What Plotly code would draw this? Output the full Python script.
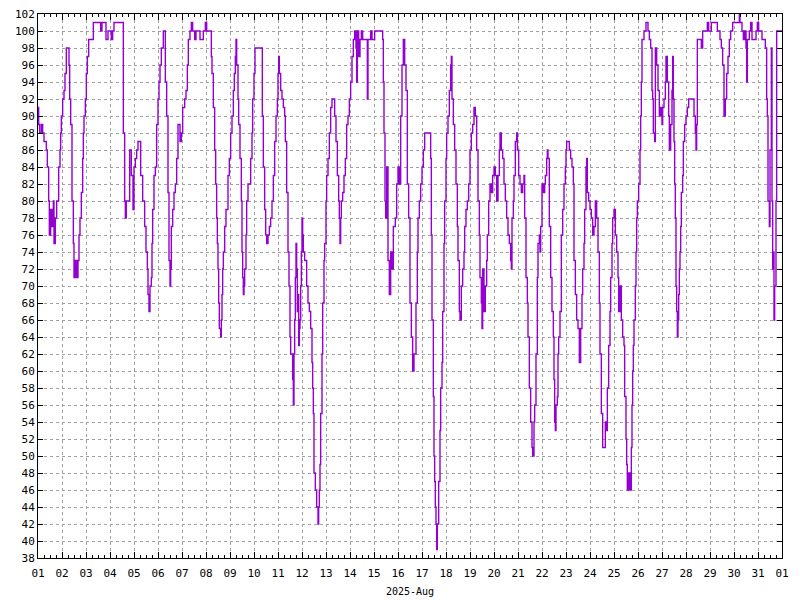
import pandas as pd
import plotly.graph_objects as go

# sample index: number of 20-minute intervals since 2025-08-01 00:00
step20 = [
    0, 2, 5, 10, 14, 18, 25, 28, 32, 34, 38, 42, 46, 48, 52, 56, 60, 62, 66, 68, 70, 74, 78, 81, 85, 90, 93, 95, 98,
    102, 106, 108, 112, 116, 120, 123, 126, 130, 134, 136, 138, 142, 145, 148, 152, 166, 188, 192, 204, 210, 220,
    224, 228, 254, 256, 260, 262, 265, 272, 275, 280, 285, 288, 292, 296, 300, 306, 308, 314, 320, 324, 328, 330,
    333, 336, 340, 342, 344, 348, 352, 356, 360, 363, 366, 370, 376, 380, 382, 386, 390, 393, 396, 398, 400, 404,
    408, 412, 416, 420, 426, 430, 434, 440, 444, 448, 451, 456, 460, 464, 470, 474, 484, 486, 490, 496, 502, 506,
    510, 520, 522, 526, 530, 533, 536, 538, 540, 542, 544, 548, 550, 552, 554, 556, 560, 564,
    570, 574, 578, 582, 586, 589, 592, 594, 596, 600, 602, 606, 610, 612, 614, 616, 618, 620, 624, 626, 630, 638,
    642, 644, 648, 651, 672, 673, 676, 680, 683, 686, 690, 694, 698, 702, 706, 710, 714, 718, 720, 722, 724, 728,
    732, 736, 740, 742, 746, 750, 753, 756, 758, 762, 764, 766, 768, 770, 772, 774, 776, 778, 780, 782, 784, 786,
    788, 790, 792, 794, 796, 800, 806, 810, 814, 818, 822, 824, 826, 828, 832, 836, 840, 842, 844, 846, 848, 852,
    854, 858, 860, 864, 866, 870, 874, 878, 882, 888, 890, 894, 898, 902, 904, 906, 908, 910, 914, 918, 922, 926,
    930, 934, 938, 942, 946, 950, 954, 956, 958, 962, 966, 970, 974, 984, 988, 990, 998, 1002, 1006, 1010, 1030,
    1034, 1036, 1038, 1041, 1043, 1046, 1050, 1054, 1058, 1062, 1066, 1072, 1076, 1080, 1084, 1088, 1092, 1096,
    1100, 1104, 1108, 1112, 1116, 1120, 1124, 1128,
    1134, 1138, 1140, 1144, 1148, 1152, 1156, 1160, 1176, 1178, 1180, 1182, 1186, 1188, 1190, 1192, 1194, 1196,
    1198, 1202, 1206, 1208, 1212, 1214, 1218, 1220, 1224, 1226, 1230, 1234, 1238, 1240, 1242, 1246, 1250, 1254,
    1258, 1260, 1264, 1266, 1270, 1274, 1278, 1280, 1284, 1288, 1292, 1296, 1300, 1304, 1308, 1312, 1316, 1320,
    1324, 1326, 1330, 1332, 1334, 1338, 1342, 1346, 1348, 1352, 1356, 1360, 1364, 1368, 1372, 1376, 1380, 1384,
    1386, 1390, 1394, 1398, 1402, 1406, 1410, 1414, 1418, 1420, 1422, 1426, 1428, 1432, 1436, 1438, 1442, 1446,
    1450, 1454, 1458, 1460, 1464, 1468, 1470, 1474, 1478, 1482, 1484, 1488, 1490, 1494, 1498, 1500, 1504, 1506,
    1508, 1512, 1516, 1520, 1522, 1526, 1528, 1530, 1534, 1538, 1542, 1546, 1548, 1550, 1552, 1554, 1558, 1560,
    1562, 1566, 1570, 1574, 1578, 1582, 1584, 1586, 1590, 1594, 1598, 1602, 1606, 1608, 1612, 1616, 1620, 1624,
    1628, 1632, 1634, 1638, 1640, 1644, 1646, 1648, 1652, 1656, 1660, 1664, 1668, 1672, 1676, 1680, 1684, 1686,
    1690, 1694,
    1702, 1706, 1708, 1712, 1716, 1718, 1722, 1724, 1728, 1732, 1736, 1740, 1742, 1746, 1750, 1754, 1758, 1760,
    1764, 1766, 1768, 1772, 1776, 1780, 1782, 1784, 1786, 1788, 1792, 1794, 1796, 1798, 1802, 1806, 1808, 1810,
    1812, 1818, 1824, 1830, 1834, 1838, 1842, 1844, 1846, 1850, 1852, 1856, 1860, 1864, 1868, 1872, 1874, 1878,
    1882, 1884, 1888, 1892, 1894, 1898, 1902, 1904, 1906, 1908, 1910, 1912, 1914, 1916, 1918, 1920, 1922, 1924,
    1926, 1928, 1930, 1934, 1936, 1940, 1944, 1948, 1952, 1966, 1968, 1972, 1974, 1976, 1978, 1988, 1990, 1994,
    2006, 2008, 2012, 2020, 2034, 2038, 2046, 2050, 2054, 2058, 2062, 2066, 2070, 2074, 2078, 2084, 2102, 2104,
    2106, 2112, 2116, 2120, 2124, 2126, 2128, 2134, 2138, 2142, 2148, 2154, 2158, 2162, 2172, 2178, 2182, 2186,
    2188, 2190, 2194, 2196, 2200, 2202, 2204, 2206, 2208, 2210, 2214, 2216, 2232,
]

humidity = [
    91, 89, 88, 89, 88, 87, 86, 84, 80, 76, 79, 77, 80, 75, 78, 80, 80, 84, 86, 88, 90, 92, 93, 95, 98, 98, 96, 92, 89,
    80, 75, 71, 73, 71, 73, 76, 78, 81, 85, 88, 90, 92, 95, 97, 99, 101, 100, 101, 99, 100, 99,
    100, 101, 101, 88, 80, 78, 80, 80, 86, 83, 79, 84, 85, 86, 87, 87, 83, 80, 77, 74, 72, 69,
    67, 70, 71, 75, 79, 83, 84, 89, 92, 94, 96, 98, 100, 100, 94, 90, 81, 73, 70, 72, 77, 79,
    81, 82, 85, 89, 87, 88, 91, 92, 93, 96, 99, 100, 101, 100, 99, 100, 100, 99, 99, 100, 101, 100,
    100, 97, 95, 91, 86, 82, 78, 75, 72, 68, 65, 64, 66, 69, 72, 74, 77, 79,
    83, 85, 88, 90, 93, 95, 97, 99, 96, 92, 89, 85, 80, 74, 71, 69, 70, 72, 76, 80, 82, 85,
    88, 92, 95, 98, 98, 90, 84, 79, 76, 75, 76, 77, 78, 80, 83, 87, 90, 92, 95, 97, 95, 93,
    92, 91, 90, 87, 81, 74, 70, 64, 62, 62, 59, 56, 62, 66, 71, 75, 72, 67, 69, 63, 65, 66,
    70, 74, 78, 76, 74, 73, 70, 68, 67, 65, 61, 58, 55, 48, 46, 44, 42, 44, 46, 49, 55, 62,
    68, 73, 75, 80, 83, 85, 88, 91, 92, 92, 90, 87, 83, 80, 78, 75, 78, 80, 81, 83, 85, 89,
    90, 92, 94, 97, 99, 100, 98, 94, 100, 97, 99, 100, 99, 99, 92, 99, 100, 99, 99, 100, 100,
    99, 94, 88, 80, 78, 84, 73, 69, 74, 72, 77, 78, 82, 84, 82, 90, 96, 99,
    96, 93, 82, 78, 68, 64, 60, 62,
    68, 74, 78, 80, 82, 84, 86, 88, 88, 85, 76, 66, 57, 50, 47, 44, 42, 39,
    42, 47, 53, 58, 61, 67, 75, 80, 85, 88, 90, 93, 96, 97, 92, 89, 86, 82,
    77, 73, 67, 66, 70, 72, 74, 77, 79, 80, 82, 86, 88, 89, 91, 90, 86, 80,
    76, 71, 68, 65, 72, 67, 70, 73, 76, 80, 82, 81, 83, 84, 83, 80, 83, 86,
    88, 86, 85, 82, 80, 78, 76, 75, 73, 72, 78, 80, 83, 87, 88, 86, 83, 82,
    81, 82, 83, 78, 71, 68, 64, 58, 54, 51, 50, 54, 56, 62, 71, 75, 76, 74,
    77, 82, 81, 82, 83, 85, 86, 85, 77, 71, 67, 64, 59, 54, 53, 56, 57, 62,
    64, 67, 76, 79, 82, 84, 86, 87, 87, 86, 85, 84, 82, 73, 69, 66, 65, 61,
    65, 69, 72, 75, 79, 84, 85, 81, 80, 79, 78, 76, 77, 80, 78, 74, 68, 62,
    55, 51,
    54, 53, 58, 63, 67, 71, 75, 78, 79, 76, 74, 71, 67, 70, 66, 64, 63, 57,
    52, 49, 46, 48, 46, 51, 56, 60, 63, 66, 70, 74, 78, 80, 82, 86, 90, 94,
    99, 100, 101, 100, 99, 98, 93, 92, 88, 87, 98, 96, 93, 90, 91, 89, 91, 92,
    94, 97, 94, 90, 86, 89, 93, 97, 92, 87, 82, 78, 70, 67, 64, 66, 69, 72,
    74, 77, 81, 83, 87, 89, 90, 91, 92, 92, 90, 88, 86, 89, 99, 99, 98, 100,
    100, 101, 100, 101, 101, 100, 99, 98, 96, 90, 92, 95, 97, 99, 100, 101, 101, 102,
    101, 100, 99, 100, 98, 94, 99, 100, 101, 99, 99, 100, 101, 100, 99, 99, 98, 92,
    90, 80, 77, 86, 98, 80, 72, 74, 66, 70, 80, 100, 100,
]

start = pd.Timestamp("2025-08-01 00:00")
times = [start + pd.Timedelta(minutes=20 * s) for s in step20]

FONT = "DejaVu Sans Mono"

fig = go.Figure()
fig.add_trace(go.Scatter(
    x=times, y=humidity, mode="lines", line_shape="hv",
    line=dict(color="#9400D3", width=1.4), showlegend=False,
))

grid = dict(showgrid=True, gridcolor="#a0a0a0", griddash="dot", gridwidth=1)

# page body has an 8px default margin, so the figure is 8px smaller and margins shifted
fig.update_layout(
    width=792, height=592,
    margin=dict(l=30, r=18, t=6, b=42, autoexpand=False),
    paper_bgcolor="white", plot_bgcolor="white",
    font=dict(family=FONT, size=11, color="black"),
    xaxis=dict(
        type="date", automargin=False,
        range=["2025-08-01 00:00", "2025-09-01 00:00"],
        tick0="2025-08-01", dtick=86400000, tickformat="%d",
        ticks="inside", ticklen=6, tickcolor="black", tickwidth=1,
        showline=True, linecolor="black", linewidth=1, mirror="allticks",
        minor=dict(dtick=6 * 3600 * 1000, ticks="inside", ticklen=3, tickcolor="black", showgrid=False),
        title=dict(text="2025-Aug", font=dict(family=FONT, size=10), standoff=8),
        tickfont=dict(family=FONT, size=11),
        ticklabelstandoff=5, ticklabeloverflow="allow",
        zeroline=False,
        **grid,
    ),
    yaxis=dict(
        automargin=False,
        range=[38, 102], tick0=38, dtick=2,
        ticks="inside", ticklen=5, tickcolor="black", tickwidth=1,
        showline=True, linecolor="black", linewidth=1, mirror="allticks",
        tickfont=dict(family=FONT, size=11),
        ticklabeloverflow="allow",
        zeroline=False,
        **grid,
    ),
)

fig.write_html("out.html")
